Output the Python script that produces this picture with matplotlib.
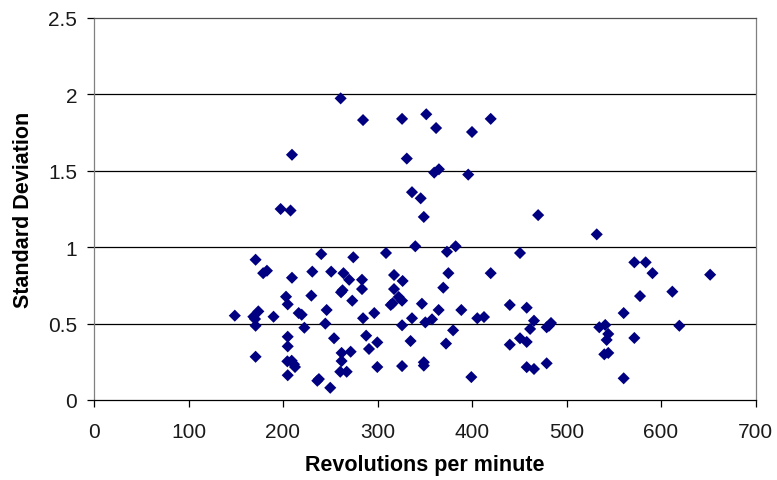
import matplotlib
matplotlib.use('Agg')
import matplotlib.pyplot as plt

plt.rcParams['font.family'] = ['Liberation Sans', 'DejaVu Sans']

# rpm readings and the standard deviation measured at each one
rpm = [149, 171, 179, 183, 209.5, 231, 240.5, 251, 197.5, 208,
       209.5, 261, 284.7, 326, 351.6, 362, 400, 419.8, 331, 360,
       365, 396, 336.5, 345.7, 349, 340, 382.7, 373.5, 309, 274.4,
       450.8, 264, 317.5, 375, 419.8, 270, 283.6, 326.6, 369.6, 283.6,
       317.5, 261.4, 263, 273.3, 322.4, 326, 314, 316, 347, 364.7,
       388.7, 296.6, 284.7, 336.5, 357.7, 350.6, 405.6, 412.7, 440, 457.9,
       326, 461.5, 254, 288, 380, 299.8, 335, 372.5, 291, 440,
       450.8, 457.9, 262, 271.6, 262, 260.6, 267.4, 299.8, 326, 349,
       349, 457.9, 399.3, 250, 203.2, 205, 230, 173.9, 168.6, 170.4,
       171, 190, 216.6, 219.8, 222.6, 246.2, 244.8, 205, 205, 171,
       204.6, 209.2, 211.6, 212.7, 205, 236.3, 238, 532, 470, 571.8,
       583.8, 591, 612, 577.8, 560.5, 465.6, 479, 481.5, 483.6, 534.7,
       541, 544.2, 542.5, 571.8, 619.4, 540, 544.2, 465.6, 479, 560.5,
       652]
std_dev = [0.552, 0.918, 0.83, 0.846, 0.80, 0.84, 0.955, 0.84, 1.25, 1.24,
           1.605, 1.974, 1.832, 1.84, 1.87, 1.78, 1.754, 1.84, 1.58, 1.488,
           1.51, 1.475, 1.36, 1.32, 1.198, 1.006, 1.006, 0.97, 0.962, 0.934,
           0.962, 0.83, 0.818, 0.83, 0.83, 0.787, 0.787, 0.779, 0.735, 0.726,
           0.726, 0.705, 0.718, 0.65, 0.674, 0.65, 0.622, 0.633, 0.63, 0.589,
           0.589, 0.569, 0.535, 0.535, 0.528, 0.508, 0.535, 0.543, 0.622, 0.604,
           0.489, 0.465, 0.404, 0.421, 0.456, 0.377, 0.386, 0.369, 0.334, 0.362,
           0.404, 0.38, 0.308, 0.316, 0.255, 0.185, 0.185, 0.216, 0.222, 0.247,
           0.225, 0.215, 0.15, 0.08, 0.676, 0.626, 0.683, 0.58, 0.545, 0.53,
           0.486, 0.545, 0.569, 0.558, 0.473, 0.589, 0.5, 0.414, 0.351, 0.283,
           0.253, 0.257, 0.234, 0.216, 0.162, 0.126, 0.137, 1.084, 1.21, 0.901,
           0.901, 0.83, 0.709, 0.68, 0.569, 0.519, 0.476, 0.486, 0.504, 0.476,
           0.491, 0.432, 0.393, 0.406, 0.486, 0.299, 0.308, 0.203, 0.24, 0.142,
           0.82]

x_ticks = [0, 100, 200, 300, 400, 500, 600, 700]
y_ticks = [0, 0.5, 1, 1.5, 2, 2.5]
y_tick_labels = ['0', '0.5', '1', '1.5', '2', '2.5']

fig = plt.figure(figsize=(7.77, 4.81), dpi=100)
ax = fig.add_axes([94 / 777, 80 / 481, 661.5 / 777, 382 / 481])

# horizontal gridlines like a spreadsheet chart
for yv in y_ticks[1:-1]:
    ax.axhline(yv, color='black', linewidth=0.9, zorder=1)

ax.scatter(rpm, std_dev, marker='D', s=38, color='#000080',
           edgecolors='none', zorder=3)

ax.set_xlim(0, 700)
ax.set_ylim(0, 2.5)
ax.set_xticks(x_ticks)
ax.set_yticks(y_ticks)
ax.set_yticklabels(y_tick_labels)

ax.spines['bottom'].set_color('black')
ax.spines['left'].set_color('#808080')
ax.spines['top'].set_color('#505050')
ax.spines['right'].set_color('#808080')
for sp in ax.spines.values():
    sp.set_linewidth(0.9)

ax.tick_params(axis='both', direction='out', length=5, width=0.9,
               color='black', labelsize=15, labelcolor='#1a1a1a')
ax.tick_params(axis='x', pad=11)
ax.tick_params(axis='y', pad=7)

ax.set_xlabel('Revolutions per minute', fontsize=15.5, fontweight='bold',
              labelpad=9)
ax.set_ylabel('Standard Deviation', fontsize=15.5, fontweight='bold',
              labelpad=10)

fig.savefig('out.png', dpi=100)
plt.close(fig)
